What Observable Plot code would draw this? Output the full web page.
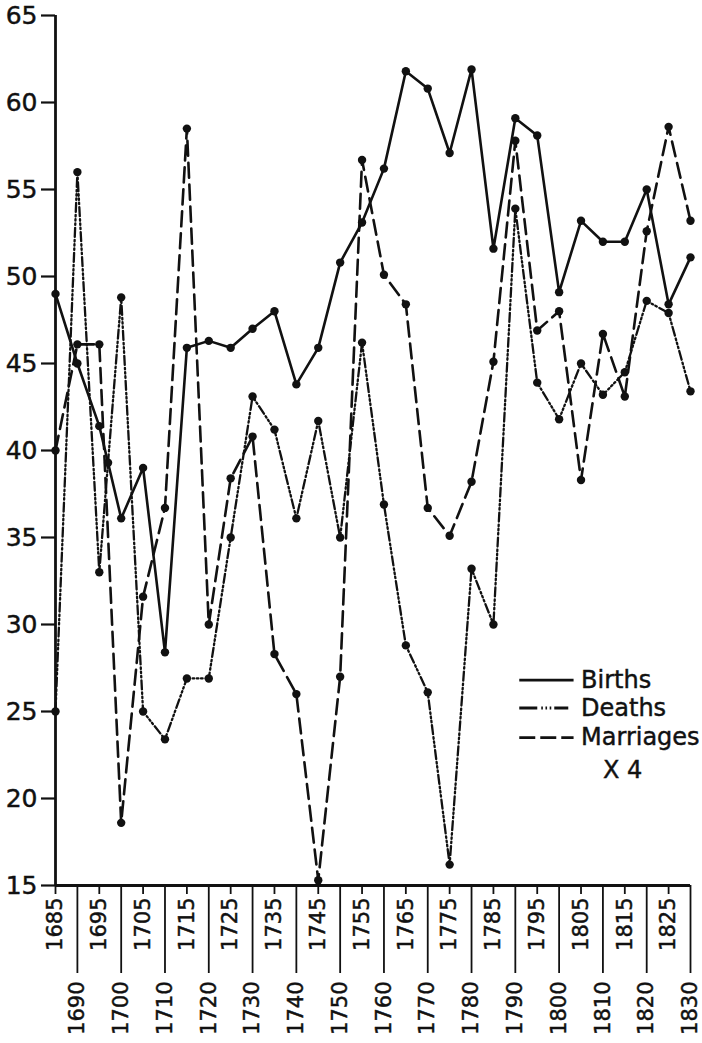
<!DOCTYPE html>
<html>
<head>
<meta charset="utf-8">
<script src="https://cdn.jsdelivr.net/npm/d3@7"></script>
<script src="https://cdn.jsdelivr.net/npm/@observablehq/plot@0.6"></script>
<style>
  html, body { margin: 0; padding: 0; background: #fff; }
  #chart svg { font-family: "DejaVu Sans", sans-serif; background: #fff; }
  #chart svg text { stroke: #111; stroke-width: 0.45px; paint-order: stroke; }
</style>
</head>
<body>
<div id="chart"></div>
<script>
// ---- data ----
const years = [1685,1690,1695,1700,1705,1710,1715,1720,1725,1730,1735,1740,1745,1750,1755,
               1760,1765,1770,1775,1780,1785,1790,1795,1800,1805,1810,1815,1820,1825,1830];
const birthYears = [1685,1690,1695,1697,1700,1705,1710,1715,1720,1725,1730,1735,1740,1745,1750,1755,
               1760,1765,1770,1775,1780,1785,1790,1795,1800,1805,1810,1815,1820,1825,1830];
const births = [49,45,41.4,39.3,36.1,39,28.4,45.9,46.3,45.9,47,48,43.8,45.9,50.8,53.1,
                56.2,61.8,60.8,57.1,61.9,51.6,59.1,58.1,49.1,53.2,52,52,55,48.4,51.1];
const deaths = [25,56,33,48.8,25,23.4,26.9,26.9,35,43.1,41.2,36.1,41.7,35,46.2,
                36.9,28.8,26.1,16.2,33.2,30,53.9,43.9,41.8,45,43.2,44.5,48.6,47.9,43.4];
const marriagesX4 = [40,46.1,46.1,18.6,31.6,36.7,58.5,30,38.4,40.8,28.3,26,15.3,27,56.7,
                50.1,48.4,36.7,35.1,38.2,45.1,57.8,46.9,48,38.3,46.7,43.1,52.6,58.6,53.2];
const upperTickLabels = [1685,1695,1705,1715,1725,1735,1745,1755,1765,1775,1785,1795,1805,1815,1825];
const lowerTickLabels = [1690,1700,1710,1720,1730,1740,1750,1760,1770,1780,1790,1800,1810,1820,1830];
const yTicks = [15,20,25,30,35,40,45,50,55,60,65];
const seriesNames = ["Births","Deaths","Marriages"];
const legendNote = "X 4";

// ---- tables built from the arrays ----
const birthRows = birthYears.map((yr, i) => ({year: yr, value: births[i]}));
const deathRows = years.map((yr, i) => ({year: yr, value: deaths[i]}));
const marriageRows = years.map((yr, i) => ({year: yr, value: marriagesX4[i]}));

// ---- styles ----
const ink = "#111";
const dashDeaths = "9,3,1.6,2.6,1.6,2.6,1.6,3";
const dashMarriages = "15,7";
const font = "DejaVu Sans, sans-serif";

// legend placement (data space)
const legX1 = 1790.9, legX2 = 1803.3, legTextX = 1805;
const legY = [26.8, 25.2, 23.5];
const legendRows = seriesNames.map((n, i) => ({name: n, y: legY[i]}));
const legendDash = [null, "18,4,1.6,2.6,1.6,2.6,1.6,3,14", "16,5"];

const chart = Plot.plot({
  width: 702,
  height: 1043,
  marginLeft: 55,
  marginRight: 12,
  marginTop: 15,
  marginBottom: 158,
  style: {fontFamily: font, color: ink, background: "#fff"},
  x: {domain: [1685, 1830]},
  y: {domain: [15, 65]},
  marks: [
    Plot.axisY({ticks: yTicks, tickSize: 14, tickPadding: 4, fontSize: 25, strokeWidth: 2.2, label: null, tickFormat: d => String(d)}),
    Plot.axisX({ticks: upperTickLabels, tickSize: 9, tickPadding: 3, tickRotate: -90, fontSize: 21, strokeWidth: 1.8, label: null, tickFormat: d => String(d)}),
    Plot.axisX({ticks: lowerTickLabels, tickSize: 88, tickPadding: 8, tickRotate: -90, fontSize: 21, strokeWidth: 1.8, label: null, tickFormat: d => String(d)}),
    Plot.ruleX([1685], {stroke: ink, strokeWidth: 2.8}),
    Plot.ruleY([15], {stroke: ink, strokeWidth: 2.8}),

    Plot.line(marriageRows, {x: "year", y: "value", stroke: ink, strokeWidth: 2.6, strokeDasharray: dashMarriages}),
    Plot.line(deathRows, {x: "year", y: "value", stroke: ink, strokeWidth: 2.3, strokeDasharray: dashDeaths}),
    Plot.line(birthRows, {x: "year", y: "value", stroke: ink, strokeWidth: 2.6}),
    Plot.dot(marriageRows, {x: "year", y: "value", r: 4.2, fill: ink, stroke: "none"}),
    Plot.dot(deathRows, {x: "year", y: "value", r: 4.2, fill: ink, stroke: "none"}),
    Plot.dot(birthRows, {x: "year", y: "value", r: 4.2, fill: ink, stroke: "none"}),

    // legend
    ...legendRows.map((d, i) => Plot.link([d], {x1: () => legX1, x2: () => legX2, y1: "y", y2: "y",
        stroke: ink, strokeWidth: 2.8, strokeDasharray: legendDash[i]})),
    Plot.text(legendRows, {x: () => legTextX, y: "y", text: "name", textAnchor: "start", fontSize: 24, fill: ink}),
    Plot.text([legendNote], {x: () => 1814.5, y: () => 21.6, text: d => d, textAnchor: "middle", fontSize: 24, fill: ink})
  ]
});
document.getElementById("chart").appendChild(chart);
</script>
</body>
</html>
